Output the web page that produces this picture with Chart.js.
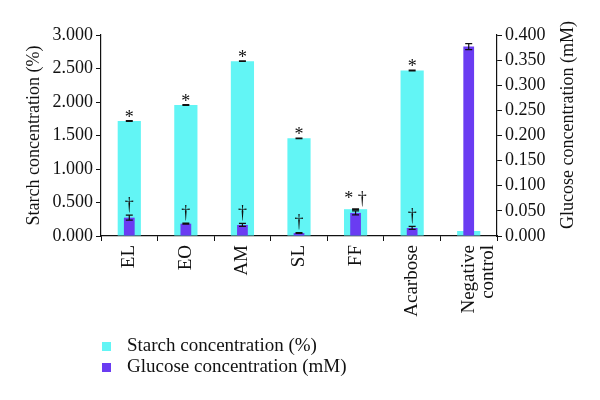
<!DOCTYPE html>
<html>
<head>
<meta charset="utf-8">
<script src="https://cdn.jsdelivr.net/npm/chart.js@4"></script>
<style>html,body{margin:0;background:#fff}</style>
</head>
<body>
<canvas id="chart" width="600" height="400"></canvas>
<script>
// data
const categories = ["EL", "EO", "AM", "SL", "FF", "Acarbose", ["Negative", "control"]];
const starchValues = [1.716, 1.955, 2.61, 1.458, 0.40, 2.47, 0.075];
const starchErrors = [0.005, 0.005, 0.004, 0.005, 0.005, 0.005, 0];
const glucoseValues = [0.0365, 0.0245, 0.022, 0.006, 0.046, 0.016, 0.377];
const glucoseErrors = [0.005, 0.001, 0.003, 0.001, 0.004, 0.003, 0.006];
const starchMarks = ["*", "*", "*", "*", "* \u2020", "*", ""];
const glucoseMarks = ["\u2020", "\u2020", "\u2020", "\u2020", "", "\u2020", ""];
const seriesNames = ["Starch concentration (%)", "Glucose concentration (mM)"];

const CYAN = "#62f5f5";
const PURPLE = "#6a3cf2";
const FONT = "'Liberation Serif', 'Times New Roman', serif";

// error bars, significance marks, right axis title and legend
const extras = {
  id: "extras",
  afterDatasetsDraw(chart) {
    const ctx = chart.ctx;
    const sets = [
      { idx: 0, axis: "y", vals: starchValues, errs: starchErrors, marks: starchMarks },
      { idx: 1, axis: "y1", vals: glucoseValues, errs: glucoseErrors, marks: glucoseMarks },
    ];
    ctx.save();
    ctx.strokeStyle = "#111";
    ctx.lineWidth = 1.2;
    ctx.fillStyle = "#111";
    ctx.font = "18px " + FONT;
    ctx.textAlign = "center";
    ctx.textBaseline = "alphabetic";
    sets.forEach((s) => {
      const meta = chart.getDatasetMeta(s.idx);
      const scale = chart.scales[s.axis];
      meta.data.forEach((bar, i) => {
        const yTop = scale.getPixelForValue(s.vals[i] + s.errs[i]);
        const yBot = scale.getPixelForValue(Math.max(0, s.vals[i] - s.errs[i]));
        if (s.errs[i] > 0) {
          ctx.beginPath();
          ctx.moveTo(bar.x, yTop);
          ctx.lineTo(bar.x, yBot);
          ctx.moveTo(bar.x - 3.5, yTop);
          ctx.lineTo(bar.x + 3.5, yTop);
          ctx.moveTo(bar.x - 3.5, yBot);
          ctx.lineTo(bar.x + 3.5, yBot);
          ctx.stroke();
        }
        if (s.marks[i]) {
          const off = s.marks[i] === "*" ? 2 : -5;
          ctx.fillText(s.marks[i], bar.x, yTop + off);
        }
      });
    });
    ctx.restore();
  },
  afterDraw(chart) {
    const ctx = chart.ctx;
    ctx.save();
    ctx.fillStyle = "#111";
    ctx.font = "18px " + FONT;
    ctx.textAlign = "center";
    ctx.textBaseline = "middle";
    ctx.translate(568, 125);
    ctx.rotate(-Math.PI / 2);
    ctx.fillText(seriesNames[1], 0, 0);
    ctx.restore();

    ctx.save();
    ctx.font = "19px " + FONT;
    ctx.textBaseline = "middle";
    [CYAN, PURPLE].forEach((c, i) => {
      const y = 346 + i * 21;
      ctx.fillStyle = c;
      ctx.fillRect(102, y - 4, 9, 9);
      ctx.fillStyle = "#111";
      ctx.fillText(seriesNames[i], 127, y);
    });
    ctx.restore();
  },
};

new Chart(document.getElementById("chart"), {
  type: "bar",
  data: {
    labels: categories,
    datasets: [
      {
        label: seriesNames[0],
        data: starchValues,
        backgroundColor: CYAN,
        yAxisID: "y",
        grouped: false,
        categoryPercentage: 1,
        barPercentage: 0.41,
        order: 1,
      },
      {
        label: seriesNames[1],
        data: glucoseValues,
        backgroundColor: PURPLE,
        yAxisID: "y1",
        grouped: false,
        categoryPercentage: 1,
        barPercentage: 0.19,
        order: 0,
      },
    ],
  },
  options: {
    responsive: false,
    animation: false,
    layout: { padding: { top: 35, left: 0, right: 0, bottom: 0 } },
    plugins: { legend: { display: false }, tooltip: { enabled: false } },
    scales: {
      x: {
        afterFit: (s) => { s.height = 164; },
        border: { color: "#111", width: 1.2 },
        grid: { drawOnChartArea: false, color: "#111", tickLength: 5, offset: true },
        ticks: {
          color: "#111",
          font: { family: FONT, size: 19, lineHeight: 1.0 },
          minRotation: 90,
          maxRotation: 90,
          autoSkip: false,
          padding: 4,
        },
      },
      y: {
        position: "left",
        min: 0,
        max: 3,
        afterFit: (s) => { s.width = 101; },
        border: { color: "#111", width: 1.2 },
        grid: { drawOnChartArea: false, color: "#111", tickLength: 5 },
        ticks: {
          stepSize: 0.5,
          color: "#111",
          font: { family: FONT, size: 18 },
          padding: 3,
          callback: (v) => v.toFixed(3),
        },
        title: {
          display: true,
          text: seriesNames[0],
          color: "#111",
          font: { family: FONT, size: 18 },
          padding: { top: 23, bottom: 0 },
        },
      },
      y1: {
        position: "right",
        min: 0,
        max: 0.4,
        afterFit: (s) => { s.width = 103; },
        border: { color: "#111", width: 1.2 },
        grid: { drawOnChartArea: false, color: "#111", tickLength: 5 },
        ticks: {
          stepSize: 0.05,
          color: "#111",
          font: { family: FONT, size: 18 },
          padding: 3,
          callback: (v) => v.toFixed(3),
        },
      },
    },
  },
  plugins: [extras],
});
</script>
</body>
</html>
